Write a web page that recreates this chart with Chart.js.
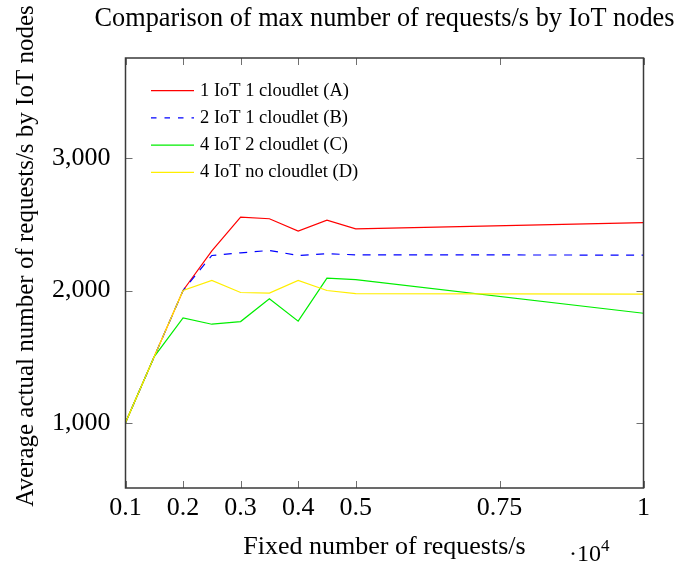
<!DOCTYPE html>
<html>
<head>
<meta charset="utf-8">
<script src="https://cdn.jsdelivr.net/npm/chart.js@4/dist/chart.umd.min.js"></script>
<style>
  body { margin: 0; background: #fff; }
  canvas { display: block; }
</style>
</head>
<body>
<canvas id="chart" width="680" height="562"></canvas>
<script>
// Data (x in units of 10^4 requests/s)
const xValues = [0.1, 0.15, 0.2, 0.25, 0.3, 0.35, 0.4, 0.45, 0.5, 1];
const seriesA = [1000, 1500, 2000, 2300, 2555, 2543, 2450, 2532, 2467, 2513];
const seriesB = [1000, 1500, 2000, 2265, 2285, 2303, 2265, 2278, 2270, 2268];
const seriesC = [1000, 1500, 1793, 1745, 1765, 1937, 1768, 2093, 2083, 1828];
const seriesD = [1000, 1500, 2000, 2076, 1985, 1980, 2076, 2000, 1977, 1972];
const seriesLabels = ['1 IoT 1 cloudlet (A)', '2 IoT 1 cloudlet (B)', '4 IoT 2 cloudlet (C)', '4 IoT no cloudlet (D)'];
const xTicks = [0.1, 0.2, 0.3, 0.4, 0.5, 0.75, 1];
const yTicks = [1000, 2000, 3000];

const SERIF = '"Liberation Serif", "Times New Roman", serif';

function toPoints(ys) {
    return ys.map((y, i) => ({ x: xValues[i], y: y }));
}

// Title, frame, inward tick marks on all sides, legend, y title and the 10^4 factor
const decorPlugin = {
    id: 'decor',
    afterDatasetsDraw(chart) {
        const { ctx, chartArea: a, scales } = chart;
        const tl = 7;
        ctx.save();
        ctx.strokeStyle = '#707070';
        ctx.lineWidth = 1;
        ctx.beginPath();
        xTicks.forEach(v => {
            const px = Math.round(scales.x.getPixelForValue(v)) + 0.5;
            ctx.moveTo(px, a.bottom); ctx.lineTo(px, a.bottom - tl);
            ctx.moveTo(px, a.top); ctx.lineTo(px, a.top + tl);
        });
        yTicks.forEach(v => {
            const py = Math.round(scales.y.getPixelForValue(v)) + 0.5;
            ctx.moveTo(a.left, py); ctx.lineTo(a.left + tl, py);
            ctx.moveTo(a.right, py); ctx.lineTo(a.right - tl, py);
        });
        ctx.stroke();

        // axis frame
        ctx.strokeStyle = '#3a3a3a';
        ctx.lineWidth = 1.5;
        ctx.strokeRect(a.left, a.top, a.right - a.left, a.bottom - a.top);

        // chart title, centred on the plot area
        ctx.fillStyle = '#000';
        ctx.font = '26.3px ' + SERIF;
        ctx.textAlign = 'center';
        ctx.textBaseline = 'middle';
        ctx.fillText('Comparison of max number of requests/s by IoT nodes', (a.left + a.right) / 2, 19);

        // legend
        ctx.font = '18.5px ' + SERIF;
        ctx.textBaseline = 'middle';
        ctx.textAlign = 'left';
        chart.data.datasets.forEach((ds, i) => {
            const y = 90.7 + i * 27.2;
            ctx.strokeStyle = ds.borderColor;
            ctx.lineWidth = 1.2;
            ctx.setLineDash(ds.borderDash ? [5.5, 8] : []);
            ctx.beginPath();
            ctx.moveTo(151, y); ctx.lineTo(194, y);
            ctx.stroke();
            ctx.setLineDash([]);
            ctx.fillText(ds.label, 200, y);
        });

        // y axis title
        ctx.save();
        ctx.translate(26, 256);
        ctx.rotate(-Math.PI / 2);
        ctx.font = '25px ' + SERIF;
        ctx.textAlign = 'center';
        ctx.textBaseline = 'middle';
        ctx.fillText('Average actual number of requests/s by IoT nodes', 0, 0);
        ctx.restore();

        // scale factor
        ctx.textAlign = 'left';
        ctx.textBaseline = 'alphabetic';
        ctx.font = '24px ' + SERIF;
        ctx.fillText('\u00B710', 569, 561);
        ctx.font = '17px ' + SERIF;
        ctx.fillText('4', 601, 551);
        ctx.restore();
    }
};

const colors = ['#ff0000', '#0000ff', '#00ee00', '#ffee00'];
const allSeries = [seriesA, seriesB, seriesC, seriesD];

new Chart(document.getElementById('chart'), {
    type: 'line',
    data: {
        datasets: allSeries.map((s, i) => ({
            label: seriesLabels[i],
            data: toPoints(s),
            borderColor: colors[i],
            borderWidth: 1.2,
            borderDash: i === 1 ? [8, 7.5] : undefined,
            pointRadius: 0,
            tension: 0,
            fill: false,
            order: 3 - i
        }))
    },
    options: {
        responsive: false,
        animation: false,
        devicePixelRatio: 1,
        layout: { padding: { left: 0, right: 36.5, top: 58, bottom: 0 } },
        plugins: {
            legend: { display: false },
            tooltip: { enabled: false },
            title: { display: false }
        },
        scales: {
            x: {
                type: 'linear',
                min: 0.1,
                max: 1,
                grid: { display: false, drawTicks: false },
                border: { display: false },
                afterBuildTicks: (scale) => { scale.ticks = xTicks.map(v => ({ value: v })); },
                afterFit: (scale) => { scale.height = 74; },
                ticks: {
                    color: '#000',
                    padding: 5,
                    maxRotation: 0,
                    autoSkip: false,
                    font: { family: SERIF, size: 26 },
                    callback: (v) => String(v)
                },
                title: {
                    display: true,
                    text: 'Fixed number of requests/s',
                    color: '#000',
                    font: { family: SERIF, size: 26 },
                    padding: { top: 0, bottom: -1 }
                }
            },
            y: {
                type: 'linear',
                min: 506,
                max: 3759,
                grid: { display: false, drawTicks: false },
                border: { display: false },
                afterBuildTicks: (scale) => { scale.ticks = yTicks.map(v => ({ value: v })); },
                afterFit: (scale) => { scale.width = 125.5; },
                ticks: {
                    color: '#000',
                    padding: 15,
                    font: { family: SERIF, size: 26 },
                    callback: (v) => v.toLocaleString('en-US')
                }
            }
        }
    },
    plugins: [decorPlugin]
});
</script>
</body>
</html>
